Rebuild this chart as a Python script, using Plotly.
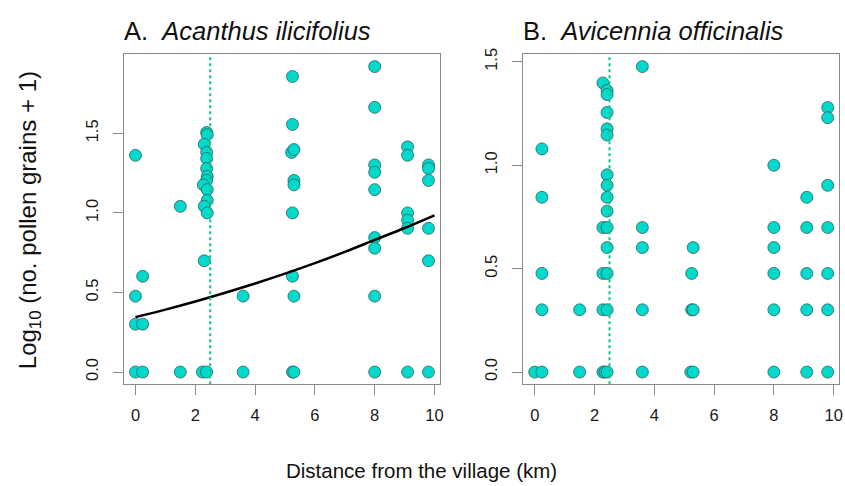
import plotly.graph_objects as go

# Panel A: Acanthus ilicifolius
a_x = [0, 0, 0, 0, 0.24, 0.24, 0.24,
       1.5, 1.5,
       2.38, 2.4, 2.3, 2.38, 2.38, 2.38, 2.4, 2.38, 2.27, 2.4, 2.4, 2.3, 2.4, 2.3, 2.24, 2.38,
       3.6, 3.6,
       5.25, 5.25, 5.22, 5.3, 5.3, 5.3, 5.25, 5.25, 5.3, 5.25, 5.3,
       8, 8, 8, 8, 8, 8, 8, 8, 8,
       9.1, 9.1, 9.1, 9.1, 9.1, 9.1,
       9.8, 9.8, 9.8, 9.8, 9.8, 9.8]
a_y = [1.362, 0.477, 0.301, 0, 0.602, 0.301, 0,
       1.041, 0,
       1.505, 1.491, 1.431, 1.380, 1.342, 1.279, 1.23, 1.204, 1.176, 1.146, 1.079, 1.041, 1.0, 0.699, 0, 0,
       0.477, 0,
       1.857, 1.556, 1.380, 1.398, 1.204, 1.176, 1.0, 0.602, 0.477, 0, 0,
       1.919, 1.663, 1.301, 1.255, 1.146, 0.845, 0.778, 0.477, 0,
       1.415, 1.362, 1.0, 0.954, 0.903, 0,
       1.301, 1.279, 1.204, 0.903, 0.699, 0]

# Fitted curve (panel A)
curve_x = [0, 1, 2, 3, 4, 5, 6, 7, 8, 9, 10]
curve_y = [0.345, 0.392, 0.443, 0.498, 0.556, 0.618, 0.684, 0.755, 0.83, 0.905, 0.985]

# Panel B: Avicennia officinalis
b_x = [0, 0.24, 0.24, 0.24, 0.24, 0.24,
       1.5, 1.5,
       2.28, 2.42, 2.42, 2.42, 2.42, 2.42, 2.42, 2.42, 2.42, 2.42, 2.28, 2.42, 2.42, 2.28, 2.42, 2.28, 2.42, 2.28, 2.35, 2.42,
       3.6, 3.6, 3.6, 3.6, 3.6,
       5.3, 5.25, 5.25, 5.3, 5.22, 5.3,
       8, 8, 8, 8, 8, 8,
       9.1, 9.1, 9.1, 9.1, 9.1,
       9.8, 9.8, 9.8, 9.8, 9.8, 9.8, 9.8]
b_y = [0, 1.079, 0.845, 0.477, 0.301, 0,
       0.301, 0,
       1.398, 1.362, 1.342, 1.255, 1.176, 1.146, 0.954, 0.903, 0.845, 0.778, 0.699, 0.699, 0.602, 0.477, 0.477, 0.301, 0.301, 0, 0, 0,
       1.477, 0.699, 0.602, 0.301, 0,
       0.602, 0.477, 0.301, 0.301, 0, 0,
       1.0, 0.699, 0.602, 0.477, 0.301, 0,
       0.845, 0.699, 0.477, 0.301, 0,
       1.279, 1.23, 0.903, 0.699, 0.477, 0.301, 0]

village_km = 2.5
x_ticks = [0, 2, 4, 6, 8, 10]
a_y_ticks = [0.0, 0.5, 1.0, 1.5]
b_y_ticks = [0.0, 0.5, 1.0, 1.5]
y_tick_text = ["0.0", "0.5", "1.0", "1.5"]

FONT = "Liberation Sans, Arial, Helvetica, sans-serif"
FILL = "#00D9CC"
EDGE = "#35605C"
VLINE = "#00C98A"
BOX = "#8a8a8a"

W, H = 845, 486

def px_x(p):
    return p / W

def px_y(p):
    return 1 - p / H

fig = go.Figure()

fig.add_trace(go.Scatter(x=a_x, y=a_y, mode="markers", xaxis="x", yaxis="y",
                         marker=dict(size=12, color=FILL, line=dict(color=EDGE, width=0.8)),
                         showlegend=False, hoverinfo="x+y"))
fig.add_trace(go.Scatter(x=curve_x, y=curve_y, mode="lines", xaxis="x", yaxis="y",
                         line=dict(color="black", width=2.5, shape="spline"),
                         showlegend=False))
fig.add_trace(go.Scatter(x=b_x, y=b_y, mode="markers", xaxis="x2", yaxis="y2",
                         marker=dict(size=12, color=FILL, line=dict(color=EDGE, width=0.8)),
                         showlegend=False, hoverinfo="x+y"))

axis_common = dict(showline=True, mirror=True, linecolor=BOX, linewidth=1,
                   ticks="outside", ticklen=10, tickcolor=BOX, tickwidth=1,
                   showgrid=False, zeroline=False,
                   tickfont=dict(family=FONT, size=16.5, color="#1a1a1a"))

fig.update_layout(
    width=W, height=H,
    margin=dict(l=0, r=0, t=0, b=0),
    paper_bgcolor="white", plot_bgcolor="white",
    font=dict(family=FONT, color="#111111"),
    xaxis=dict(domain=[px_x(124.2), px_x(441.8)], range=[-0.392, 10.192],
               tickvals=x_ticks, anchor="y", ticklabelstandoff=6, **axis_common),
    yaxis=dict(domain=[px_y(383), px_y(49)], range=[-0.0768, 1.9958],
               tickvals=a_y_ticks, ticktext=y_tick_text, tickangle=-90,
               anchor="x", ticklabelstandoff=8, **axis_common),
    xaxis2=dict(domain=[px_x(524.9), px_x(842.4)], range=[-0.392, 10.192],
                tickvals=x_ticks, anchor="y2", ticklabelstandoff=6, **axis_common),
    yaxis2=dict(domain=[px_y(383), px_y(49)], range=[-0.059, 1.536],
                tickvals=b_y_ticks, ticktext=y_tick_text, tickangle=-90,
                anchor="x2", ticklabelstandoff=8, **axis_common),
    shapes=[
        dict(type="line", xref="x", yref="y domain", x0=village_km, x1=village_km, y0=0, y1=1,
             line=dict(color=VLINE, width=2, dash="dot")),
        dict(type="line", xref="x2", yref="y2 domain", x0=village_km, x1=village_km, y0=0, y1=1,
             line=dict(color=VLINE, width=2, dash="dot")),
    ],
    annotations=[
        dict(text="A.  <i>Acanthus ilicifolius</i>", xref="paper", yref="paper",
             x=px_x(122), y=px_y(25), xanchor="left", yanchor="middle", showarrow=False,
             font=dict(family=FONT, size=25.5, color="#111111")),
        dict(text="B.  <i>Avicennia officinalis</i>", xref="paper", yref="paper",
             x=px_x(523), y=px_y(25), xanchor="left", yanchor="middle", showarrow=False,
             font=dict(family=FONT, size=25.5, color="#111111")),
        dict(text="Log<sub>10</sub> (no. pollen grains + 1)", xref="paper", yref="paper",
             x=px_x(29), y=px_y(217), xanchor="center", yanchor="middle", textangle=-90,
             showarrow=False, font=dict(family=FONT, size=24, color="#111111")),
        dict(text="Distance from the village (km)", xref="paper", yref="paper",
             x=px_x(423), y=px_y(470), xanchor="center", yanchor="middle",
             showarrow=False, font=dict(family=FONT, size=20.5, color="#111111")),
    ],
)

fig.write_html("out.html", config={"displayModeBar": False},
               post_script="document.body.style.margin='0';document.body.style.padding='0';")
